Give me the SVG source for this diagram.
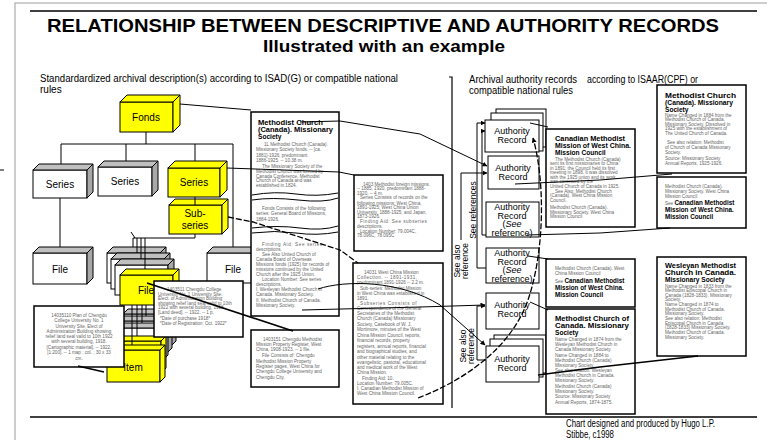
<svg xmlns="http://www.w3.org/2000/svg" width="767" height="440" viewBox="0 0 767 440">
<defs>
<style>
.f{font-family:"Liberation Sans",Arial,Helvetica,sans-serif}
.n{font-family:"Liberation Sans Narrow","Liberation Sans",Arial,sans-serif}
.ln{fill:none;stroke:#000;stroke-width:1}
.tk{fill:none;stroke:#000;stroke-width:1.7}
.dsh{fill:none;stroke:#000;stroke-width:1.3;stroke-dasharray:6 2}
.yl{fill:#ffff00;stroke:#000;stroke-width:1}
.wt{fill:#fff;stroke:#000;stroke-width:1}
.gy{fill:#c0c0c0;stroke:#000;stroke-width:1}
.gs{fill:#a8a8a8;stroke:#000;stroke-width:1}
.db{fill:#fff;stroke:#000;stroke-width:1.5}
.lb{font-family:"Liberation Sans",Arial,sans-serif;font-size:10px;text-anchor:middle}
.ar{font-family:"Liberation Sans",Arial,sans-serif;font-size:9px;text-anchor:middle}
.rl{font-family:"Liberation Sans",Arial,sans-serif;font-size:8.5px;text-anchor:middle}
.sm{font-family:"Liberation Sans",Arial,sans-serif;font-size:4.6px;fill:#666}
.hd{font-family:"Liberation Sans",Arial,sans-serif;font-size:6.6px;font-weight:bold;fill:#000}
.hb{font-weight:bold;fill:#000;font-size:6.3px}
</style>
<marker id="ah" viewBox="0 0 10 10" refX="9" refY="5" markerWidth="5" markerHeight="5" markerUnits="userSpaceOnUse" orient="auto"><path d="M0,0 L10,5 L0,10 z" fill="#000"/></marker>
</defs>
<rect x="0" y="0" width="767" height="440" fill="#fff"/>
<path d="M15,440 V3 H767" fill="none" stroke="#bdbdbd" stroke-width="1.5"/>
<line x1="0" y1="170" x2="4" y2="170" stroke="#000" stroke-width="1"/>
<line x1="30" y1="11" x2="757" y2="11" stroke="#000" stroke-width="1.5"/>
<g id="title">
<text class="n" x="383" y="32" font-size="18" font-weight="bold" text-anchor="middle" textLength="672" lengthAdjust="spacingAndGlyphs">RELATIONSHIP BETWEEN DESCRIPTIVE AND AUTHORITY RECORDS</text>
<text class="n" x="384" y="52" font-size="17" font-weight="bold" text-anchor="middle" textLength="242" lengthAdjust="spacingAndGlyphs">Illustrated with an example</text>
</g>
<g id="headings">
<text class="n" x="40" y="82" font-size="10" textLength="358" lengthAdjust="spacingAndGlyphs">Standardardized archival description(s) according to ISAD(G) or compatible national</text>
<text class="n" x="40" y="93" font-size="10">rules</text>
<text class="n" x="469" y="83" font-size="10" textLength="108" lengthAdjust="spacingAndGlyphs">Archival authority records</text>
<text class="n" x="587" y="83" font-size="10" textLength="111" lengthAdjust="spacingAndGlyphs">according to ISAAR(CPF) or</text>
<text class="n" x="469" y="94" font-size="10" textLength="104" lengthAdjust="spacingAndGlyphs">compatible national rules</text>
</g>
<path d="M449,77 H452 V408" fill="none" stroke="#000" stroke-width="1.2"/>
<line x1="30" y1="417" x2="757" y2="417" stroke="#000" stroke-width="1.5"/>
<g id="credit">
<text class="n" x="566" y="427" font-size="10" textLength="149" lengthAdjust="spacingAndGlyphs">Chart designed and produced by Hugo L.P.</text>
<text class="n" x="566" y="438" font-size="10" textLength="48" lengthAdjust="spacingAndGlyphs">Stibbe, c1998</text>
</g>

<!-- left hierarchy nodes -->
<g id="fonds">
<rect class="yl" x="120" y="102" width="53" height="30"/>
<polygon class="yl" points="120,102 127,95 180,95 173,102"/>
<polygon class="yl" points="173,102 180,95 180,125 173,132"/>
<text class="lb" x="146" y="120.5">Fonds</text>
</g>
<g id="series1">
<rect class="wt" x="33" y="170" width="54" height="28"/>
<polygon class="gy" points="33,170 39,164 93,164 87,170"/>
<polygon class="gs" points="87,170 93,164 93,192 87,198"/>
<text class="lb" x="60" y="187.5">Series</text>
</g>
<g id="series2">
<rect class="wt" x="98" y="167" width="54" height="29"/>
<polygon class="gy" points="98,167 104,161 158,161 152,167"/>
<polygon class="gs" points="152,167 158,161 158,190 152,196"/>
<text class="lb" x="125" y="185">Series</text>
</g>
<g id="series3">
<rect class="yl" x="168" y="168" width="52" height="29"/>
<polygon class="yl" points="168,168 175,161 227,161 220,168"/>
<polygon class="yl" points="220,168 227,161 227,190 220,197"/>
<text class="lb" x="194" y="186">Series</text>
</g>
<g id="subseries">
<rect class="yl" x="169" y="205" width="53" height="29"/>
<polygon class="yl" points="169,205 175,199 228,199 222,205"/>
<polygon class="yl" points="222,205 228,199 228,228 222,234"/>
<text class="lb" x="195" y="217">Sub-</text>
<text class="lb" x="195" y="229">series</text>
</g>
<g id="file1">
<rect class="wt" x="33" y="253" width="54" height="31"/>
<polygon class="gy" points="33,253 39,247 93,247 87,253"/>
<polygon class="gs" points="87,253 93,247 93,278 87,284"/>
<text class="lb" x="60" y="273" font-size="11">File</text>
</g>
<g id="file3">
<rect class="wt" x="207" y="253" width="54" height="30"/>
<polygon class="gy" points="207,253 213,247 267,247 261,253"/>
<polygon class="gs" points="261,253 267,247 267,277 261,283"/>
<text class="lb" x="233" y="273" font-size="11">File</text>
</g>
<g id="item-stack">
<rect class="wt" x="123" y="314" width="48" height="32"/>
<polygon class="gy" points="123,314 128,309 176,309 171,314"/>
<polygon class="gs" points="171,314 176,309 176,341 171,346"/>
<rect class="wt" x="119" y="321" width="48" height="32"/>
<polygon class="gy" points="119,321 124,316 172,316 167,321"/>
<polygon class="gs" points="167,321 172,316 172,348 167,353"/>
<rect class="wt" x="115" y="328" width="48" height="32"/>
<polygon class="gy" points="115,328 120,323 168,323 163,328"/>
<polygon class="gs" points="163,328 168,323 168,355 163,360"/>
<rect class="yl" x="111" y="341" width="50" height="32"/>
<polygon class="yl" points="111,341 116,336 166,336 161,341"/>
<polygon class="yl" points="161,341 166,336 166,368 161,373"/>
<rect class="yl" x="107" y="350" width="53" height="32"/>
<polygon class="yl" points="107,350 112,345 165,345 160,350"/>
<polygon class="yl" points="160,350 165,345 165,377 160,382"/>
<text class="lb" x="133" y="371" font-size="11">Item</text>
</g>
<g id="file-stack">
<rect class="wt" x="107" y="253" width="53" height="30"/>
<polygon class="gy" points="107,253 113,247 166,247 160,253"/>
<polygon class="gs" points="160,253 166,247 166,277 160,283"/>
<rect class="wt" x="111" y="259" width="53" height="30"/>
<polygon class="gy" points="111,259 117,253 170,253 164,259"/>
<polygon class="gs" points="164,259 170,253 170,283 164,289"/>
<rect class="wt" x="115" y="265" width="53" height="30"/>
<polygon class="gy" points="115,265 121,259 174,259 168,265"/>
<polygon class="gs" points="168,265 174,259 174,289 168,295"/>
<rect class="yl" x="120" y="275" width="53" height="30"/>
<polygon class="yl" points="120,275 126,269 179,269 173,275"/>
<polygon class="yl" points="173,275 179,269 179,299 173,305"/>
<text class="lb" x="146" y="294" font-size="11">File</text>
</g>

<!-- description boxes -->
<g id="item-desc">
<rect class="db" x="34" y="306" width="90" height="61"/>
<g class="sm" text-anchor="middle">
<text x="79" y="317">14035110 Plan of Chengdu</text>
<text x="79" y="322">College University No. 1</text>
<text x="79" y="327.5">University Site, Elect of</text>
<text x="79" y="332.5">Administration Building showing</text>
<text x="79" y="337.5">relief land seal valid to 10th 1922</text>
<text x="79" y="342.5">with several building, 1918.</text>
<text x="79" y="348.5">[Cartographic material]. -- 1922.</text>
<text x="79" y="354">[1:200]. -- 1 map : col. ; 30 x 33</text>
<text x="79" y="359.5">cm.</text>
</g>
</g>
<g id="file-desc">
<rect class="db" x="154" y="281" width="89" height="56"/>
<g class="sm">
<text x="167" y="291">1403511 Chengdu College</text>
<text x="158" y="295.5">University No. 1 University Site.</text>
<text x="158" y="300">Elect. of Administration Building</text>
<text x="158" y="304.5">showing relief land seal valid to 10th</text>
<text x="158" y="309">1922 with several building, 1918.</text>
<text x="158" y="313.5">[Land deed]. -- 1922. -- 1 p.</text>
<text x="160" y="320">*Date of purchase 1918*</text>
<text x="160" y="325">*Date of Registration: Oct. 1922*</text>
</g>
</g>
<g id="fonds-desc">
<rect class="db" x="251" y="112" width="88" height="204"/>
<text class="hd" x="258" y="124.5" textLength="65" lengthAdjust="spacingAndGlyphs">Methodist Church</text>
<text class="hd" x="258" y="131.5" textLength="75" lengthAdjust="spacingAndGlyphs">(Canada). Missionary</text>
<text class="hd" x="258" y="138.5">Society</text>
<g class="sm">
<text x="264" y="146">1L Methodist Church (Canada).</text>
<text x="256" y="151">Missionary Society fonds. -- [ca.</text>
<text x="256" y="156.5">1881]-1926, predominant</text>
<text x="256" y="162">1886-1925. -- 10.38 m.</text>
<text x="262" y="168">The Missionary Society of the</text>
<text x="256" y="173">Methodist Church was formed by</text>
<text x="256" y="177.5">Canada Conference, Methodist</text>
<text x="256" y="182">Church of Canada and was</text>
<text x="256" y="186.5">established in 1824.</text>
<text x="262" y="210">Fonds Consists of the following</text>
<text x="256" y="215">series: General Board of Missions,</text>
<text x="256" y="220.5">1884-1926.</text>
<text x="262" y="246" letter-spacing="0.6">Finding Aid: See series</text>
<text x="256" y="251">descriptions.</text>
<text x="262" y="256">See Also United Church of</text>
<text x="256" y="261">Canada Board of Overseas</text>
<text x="256" y="266">Missions fonds (1925) for records of</text>
<text x="256" y="271">missions continued by the United</text>
<text x="256" y="276">Church after the 1925 Union.</text>
<text x="262" y="281">Location Number: See series</text>
<text x="256" y="286">descriptions.</text>
<text x="256" y="291">I. Wesleyan Methodist Church in</text>
<text x="256" y="296">Canada. Missionary Society.</text>
<text x="256" y="302">II. Methodist Church of Canada.</text>
<text x="256" y="307">Missionary Society.</text>
</g>
<path class="ln" d="M252,195 Q275,191 296,194 T338,193"/>
<path class="ln" d="M252,200 Q272,197 298,200 T338,198"/>
<path class="ln" d="M252,228 Q278,225 300,228 T338,226"/>
<path class="ln" d="M252,233 Q275,230 296,233 T338,232"/>
</g>
<g id="property-desc">
<rect class="db" x="251" y="330" width="88" height="57"/>
<g class="sm">
<text x="263" y="341">1403151 Chengdu Methodist</text>
<text x="256" y="346">Mission Property Register, West</text>
<text x="256" y="351">China, 1908-1923. -- 1 file.</text>
<text x="262" y="357">File Consists of: Chengdu</text>
<text x="256" y="363">Methodist Mission Property</text>
<text x="256" y="368">Register pages, West China for</text>
<text x="256" y="373">Chengdu College University and</text>
<text x="256" y="379">Chengdu City.</text>
</g>
</g>
<g id="series-desc">
<rect class="db" x="354" y="175" width="89" height="76"/>
<g class="sm">
<text x="363" y="185.5">1403 Methodist foreign missions.</text>
<text x="357" y="190">-- 1885, 1920, predominant 1888-</text>
<text x="357" y="194.5">1920. -- 4 m.</text>
<text x="360" y="199">Series Consists of records on the</text>
<text x="357" y="204.5">following missions: West China,</text>
<text x="357" y="209">1891-1925; West China Union</text>
<text x="357" y="213.5">University, 1888-1925; and Japan,</text>
<text x="357" y="218">1873-1926.</text>
<text x="360" y="223" letter-spacing="0.5">Finding Aid: See subseries</text>
<text x="357" y="228">descriptions.</text>
<text x="360" y="232.5">Location Number: 79.004C,</text>
<text x="357" y="237">78.096C, 78.095C</text>
</g>
</g>
<g id="subseries-desc">
<rect class="db" x="353" y="263" width="90" height="141"/>
<g class="sm" font-size="4.4">
<text x="364" y="273.5">14031 West China Mission</text>
<text x="357" y="278.5" letter-spacing="0.4">Collection. -- 1891-1931,</text>
<text x="357" y="283.5">predominant 1891-1926 -- 2.2 m.</text>
<text x="360" y="289.5">Sub-series: Methodist Mission</text>
<text x="357" y="294.5">in West China was established in</text>
<text x="357" y="299.5">1891.</text>
<text x="360" y="304.5" letter-spacing="0.6">Subseries Consists of</text>
<text x="357" y="309.5">Correspondence of the General</text>
<text x="357" y="314.5">Secretaries of the Methodist</text>
<text x="357" y="319.5">Church (Canada) Missionary</text>
<text x="357" y="325.5">Society, Casebook of W. J.</text>
<text x="357" y="330.5">Mortimore, minutes of the West</text>
<text x="357" y="336.5">China Mission Council, reports,</text>
<text x="357" y="341.5">financial records, property</text>
<text x="357" y="347.5">registers, annual reports, financial</text>
<text x="357" y="352.5">and biographical studies, and</text>
<text x="357" y="358.5">other material relating to the</text>
<text x="357" y="363.5">evangelistic, pastoral, educational</text>
<text x="357" y="368.5">and medical work of the West</text>
<text x="357" y="374">China Mission.</text>
<text x="362" y="379.5">Finding Aid: 10.</text>
<text x="357" y="384.5">Location Number: 79.005C.</text>
<text x="357" y="389.5">I. Canadian Methodist Mission of</text>
<text x="357" y="394.5">West China Mission Council.</text>
</g>
</g>

<!-- authority records -->
<g id="ar1">
<rect class="wt" x="496" y="109" width="50" height="38"/>
<rect class="wt" x="491" y="113" width="52" height="38"/>
<rect class="wt" x="485" y="120" width="54" height="32"/>
<text class="ar" x="512" y="133.5">Authority</text>
<text class="ar" x="512" y="142.5">Record</text>
</g>
<g id="ar2">
<rect class="wt" x="488" y="156" width="51" height="33"/>
<text class="ar" x="513" y="171">Authority</text>
<text class="ar" x="513" y="180">Record</text>
</g>
<g id="ar3">
<rect class="wt" x="486" y="202" width="53" height="35"/>
<text class="ar" x="512" y="210">Authority</text>
<text class="ar" x="512" y="218.5">Record</text>
<text class="ar" x="512" y="227">(<tspan font-style="italic">See</tspan></text>
<text class="ar" x="512" y="235.5">reference)</text>
</g>
<g id="ar4">
<rect class="wt" x="486" y="248" width="53" height="35"/>
<text class="ar" x="512" y="256">Authority</text>
<text class="ar" x="512" y="264.5">Record</text>
<text class="ar" x="512" y="273">(<tspan font-style="italic">See</tspan></text>
<text class="ar" x="512" y="281.5">reference)</text>
</g>
<g id="ar5">
<rect class="wt" x="486" y="293" width="53" height="36"/>
<text class="ar" x="512" y="308">Authority</text>
<text class="ar" x="512" y="316.5">Record</text>
</g>
<g id="ar6">
<rect class="wt" x="494" y="335" width="52" height="38"/>
<rect class="wt" x="490" y="339" width="53" height="38"/>
<rect class="wt" x="486" y="346" width="53" height="36"/>
<text class="ar" x="512" y="362">Authority</text>
<text class="ar" x="512" y="370.5">Record</text>
</g>
<g id="ref-labels">
<text class="rl" transform="translate(476,210) rotate(-90)">See references</text>
<text class="rl" transform="translate(460,261) rotate(-90)">See also</text>
<text class="rl" transform="translate(468,261) rotate(-90)">reference</text>
<text class="rl" transform="translate(466,346) rotate(-90)">See also</text>
<text class="rl" transform="translate(474,346) rotate(-90)">reference</text>
</g>

<!-- right authority texts -->
<g id="canadian-mission">
<rect class="db" x="546" y="129" width="89" height="98"/>
<text class="hd" x="555" y="140.5" textLength="70" lengthAdjust="spacingAndGlyphs">Canadian Methodist</text>
<text class="hd" x="555" y="147.5" textLength="76" lengthAdjust="spacingAndGlyphs">Mission of West China.</text>
<text class="hd" x="555" y="154.5">Mission Council</text>
<g class="sm">
<text x="555" y="160.5">The Methodist Church (Canada)</text>
<text x="550" y="165">sent its first missionaries to China</text>
<text x="550" y="169.5">in 1891; the Council held its first</text>
<text x="550" y="174">meeting in 1898. It was dissolved</text>
<text x="550" y="178.5">with the 1925 union and its work</text>
<text x="550" y="183">was continued by the</text>
<text x="550" y="188">United Church of Canada in 1925.</text>
<text x="555" y="192.5">See Also: Methodist Church</text>
<text x="550" y="197">(Canada). West China Mission</text>
<text x="550" y="201.5">Council.</text>
<text x="550" y="209">Methodist Church (Canada).</text>
<text x="550" y="213.5">Missionary Society. West China</text>
<text x="550" y="218">Mission Council</text>
</g>
</g>
<g id="wcmc-see">
<rect class="db" x="546" y="259" width="89" height="48"/>
<g class="sm">
<text x="555" y="270">Methodist Church (Canada). West</text>
<text x="555" y="275">China Mission Council</text>
<text x="555" y="283">See <tspan class="hb">Canadian Methodist</tspan></text>
<text x="555" y="290" class="hb">Mission of West China.</text>
<text x="555" y="297" class="hb">Mission Council</text>
</g>
</g>
<g id="mcc-missionary">
<rect class="db" x="546" y="309" width="89" height="105"/>
<text class="hd" x="555" y="320.5" textLength="74" lengthAdjust="spacingAndGlyphs">Methodist Church of</text>
<text class="hd" x="555" y="327.5" textLength="74" lengthAdjust="spacingAndGlyphs">Canada. Missionary</text>
<text class="hd" x="555" y="334.5">Society</text>
<g class="sm">
<text x="555" y="341">Name Changed in 1874 from the</text>
<text x="555" y="346">Wesleyan Methodist Church in</text>
<text x="555" y="351">Canada Missionary Society.</text>
<text x="555" y="357">Name Changed in 1884 to</text>
<text x="555" y="362">Methodist Church (Canada)</text>
<text x="555" y="367">Missionary Society.</text>
<text x="555" y="372">See also relation: Wesleyan</text>
<text x="555" y="377">Methodist Church in Canada.</text>
<text x="555" y="382">Missionary Society.</text>
<text x="555" y="388">Methodist Church (Canada)</text>
<text x="555" y="393">Missionary Society.</text>
<text x="555" y="398">Source: Missionary Society</text>
<text x="555" y="404">Annual Reports, 1874-1875.</text>
</g>
</g>
<g id="mc-canada-missionary">
<rect class="db" x="657" y="85" width="89" height="88"/>
<text class="hd" x="665" y="97.5" textLength="71" lengthAdjust="spacingAndGlyphs">Methodist Church</text>
<text class="hd" x="665" y="104.5" textLength="68" lengthAdjust="spacingAndGlyphs">(Canada). Missionary</text>
<text class="hd" x="665" y="111.5">Society</text>
<g class="sm">
<text x="665" y="116.5">Name Changed in 1884 from the</text>
<text x="665" y="121">Methodist Church of Canada.</text>
<text x="665" y="125.5">Missionary Society. Dissolved in</text>
<text x="665" y="130">1925 with the establishment of</text>
<text x="665" y="134.5">The United Church of Canada.</text>
<text x="667" y="144">See also relation: Methodist</text>
<text x="665" y="149">of Church of Canada Missionary</text>
<text x="665" y="153.5">Society.</text>
<text x="665" y="160">Source: Missionary Society</text>
<text x="665" y="165">Annual Reports, 1925-1926.</text>
</g>
</g>
<g id="wcmc-see-2">
<rect class="db" x="657" y="177" width="89" height="51"/>
<g class="sm">
<text x="665" y="188">Methodist Church (Canada).</text>
<text x="665" y="193">Missionary Society. West China</text>
<text x="665" y="198">Mission Council</text>
<text x="665" y="205">See <tspan class="hb">Canadian Methodist</tspan></text>
<text x="665" y="212" class="hb">Mission of West China.</text>
<text x="665" y="219" class="hb">Mission Council</text>
</g>
</g>
<g id="wesleyan">
<rect class="db" x="657" y="257" width="89" height="99"/>
<text class="hd" x="665" y="267.5" textLength="71" lengthAdjust="spacingAndGlyphs">Wesleyan Methodist</text>
<text class="hd" x="665" y="274.5" textLength="71" lengthAdjust="spacingAndGlyphs">Church in Canada.</text>
<text class="hd" x="665" y="281.5" font-size="6">Missionary Society</text>
<g class="sm">
<text x="665" y="287.5">Name Changed in 1833 from the</text>
<text x="665" y="292">Methodist Episcopal Church in</text>
<text x="665" y="296.5">Canada (1828-1833). Missionary</text>
<text x="665" y="301">Society.</text>
<text x="665" y="306">Name Changed in 1874 to</text>
<text x="665" y="310.5">Methodist Church of Canada.</text>
<text x="665" y="315">Missionary Society.</text>
<text x="665" y="320">See also relation: Methodist</text>
<text x="665" y="324.5">Episcopal Church in Canada</text>
<text x="665" y="329">(1828-1833) Missionary Society.</text>
<text x="665" y="334">Methodist Church of Canada.</text>
<text x="665" y="338.5">Missionary Society.</text>
</g>
</g>

<!-- connectors -->
<g id="connectors">
<path class="ln" d="M146,132 V144 M61,144 H233 M61,144 V164 M126,144 V161 M195,144 V161 M233,144 V247"/>
<path class="ln" d="M60,198 V247 M195,197 V205"/>
<path class="ln" d="M195,234 V238 H133 M131,232 L135,238 M133,238 V247 M137,238 V253 M141,238 V259 M145,238 V269"/>
<path class="ln" d="M132,305 V345 M137,305 V336 M142,305 V323 M146,305 V316"/>
<path class="ln" d="M180,104 L251,110"/>
<path class="ln" d="M300,122 L340,121 L420,134 L487,166" marker-end="url(#ah)"/>
<path class="ln" d="M227,168 L339,172 L354,175"/>
<path class="dsh" d="M228,217 L253,222 L340,250 L358,263"/>
<path class="tk" d="M147,283 L293,331"/>
<path class="tk" stroke-width="2" d="M78,366 L104,372"/>
<path class="ln" d="M302,310 L420,307 L485,305" marker-end="url(#ah)"/>
<path class="ln" d="M318,289 C345,280 400,280 440,305 L485,345" marker-end="url(#ah)"/>
<path class="dsh" d="M418,398 C470,378 512,345 528,300 C545,250 545,180 533,138" marker-end="url(#ah)"/>
<path class="ln" d="M530,123 L548,127"/>
<path class="ln" d="M515,184 L600,180 L672,174"/>
<path class="ln" d="M527,235 L600,233 L670,228"/>
<path class="ln" d="M528,256 L548,259"/>
<path class="ln" d="M530,302 L548,310"/>
<path class="tk" stroke-width="1.3" d="M538,375 L600,367 L698,356"/>
<path class="ln" d="M486,268 H477 V123 H485" marker-end="url(#ah)"/>
<path class="ln" d="M486,235 H482 V131 H485" marker-end="url(#ah)"/>
<path class="ln" d="M461,240 V173 H487" marker-end="url(#ah)"/>
<path class="ln" d="M486,360 H477 V306 H485" marker-end="url(#ah)"/>
</g>
</svg>
